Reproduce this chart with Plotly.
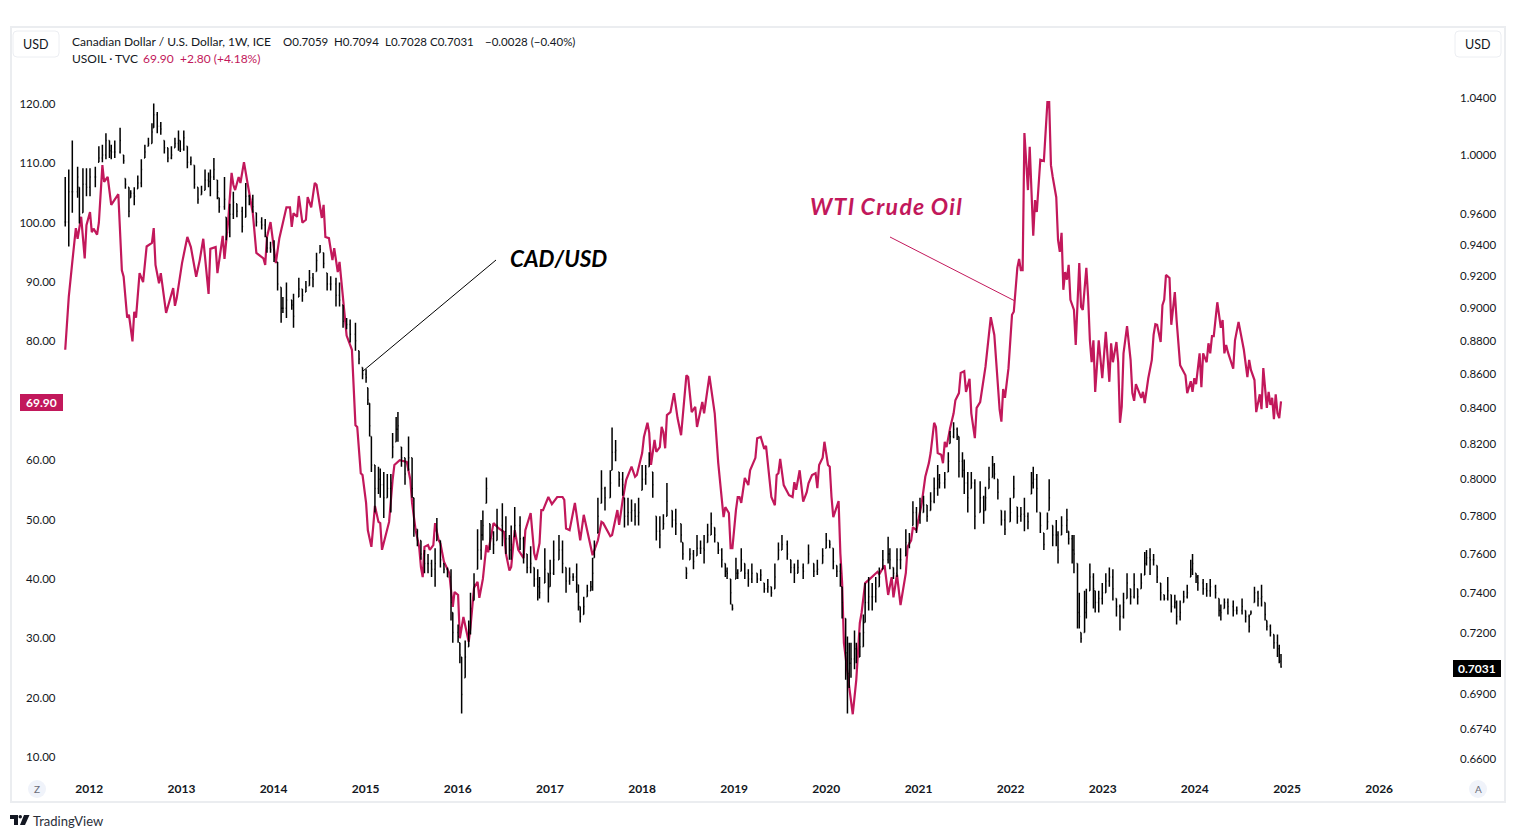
import numpy as np
import pandas as pd
import plotly.graph_objects as go

START = pd.Timestamp("2011-09-28")
WEEK_DAYS = 7.016

# CAD/USD bars (right log axis). Week number counts from START.
cad_week = [0,2,4,7,8,10,12,14,17,19,21,23,25,26,28,31,33,34,36,37,39,41,43,45,47,49,50,52,54,56,58,60,62,64,65,67,69,71,73,75,77,79,81,82,84,86,87,90,91,93,95,97,100,102,104,106,108,111,113,114,116,118,120,122,123,125,128,129,132,134,136,138,140,142,144,146,148,150,153,155,157,159,161,164,
166,168,170,171,172,173,175,177,178,180,182,184,185,187,188,190,192,194,196,197,199,201,203,205,207,209,210,212,214,216,218,219,222,223,224,226,228,229,231,233,235,236,238,240,242,244,247,249,251,252,254,257,259,261,263,265,267,268,271,273,274,276,279,281,283,285,287,289,290,291,293,295,297,298,299,301,303,305,308,309,311,313,315,316,318,320,322,324,326,328,330,332,334,336,
338,340,343,345,348,349,351,353,355,357,359,361,363,365,367,369,371,373,374,376,377,379,380,382,384,386,388,391,393,395,397,399,401,403,405,408,410,412,414,417,420,423,425,428,430,432,434,436,438,439,441,442,443,444,446,447,449,451,452,454,456,458,460,462,465,466,468,470,472,475,477,479,481,483,485,487,489,491,493,494,497,499,500,502,504,505,
507,508,510,512,514,517,519,520,522,524,525,527,529,531,534,536,538,540,542,544,546,547,549,551,553,555,556,558,560,561,563,566,567,569,570,572,573,574,576,577,579,581,582,584,586,588,590,592,594,596,598,600,602,604,606,608,610,611,613,615,617,619,621,623,625,627,628,630,632,634,636,637,639,640,643,645,647,650,652,653,655,657,660,662,665,667,669,670,672,674,676,678,679,681,683,685,686,687]

cad_high = [.985,.990,1.010,.992,.978,.991,.991,.991,.992,1.006,1.007,1.015,1.010,1.007,1.010,1.019,1.000,.984,.978,.976,.978,.986,.997,1.007,1.012,1.022,1.036,1.030,1.023,1.010,1.005,1.006,1.012,1.017,1.010,1.017,1.006,.999,.993,.978,.979,.990,.988,.990,.998,.983,.971,.985,.958,.967,.975,.967,.965,.981,.973,.973,.961,.958,.957,.945,.942,.943,.929,.913,.907,.916,.905,.909,.919,.912,.917,.924,.922,.935,.940,.935,.922,.920,.919,.916,.902,.894,.893,.891,
.874,.864,.863,.852,.843,.824,.808,.807,.806,.804,.803,.803,.826,.835,.838,.818,.812,.824,.812,.790,.773,.767,.762,.760,.757,.763,.779,.767,.755,.753,.752,.730,.724,.715,.708,.716,.726,.740,.750,.773,.778,.783,.801,.776,.772,.784,.787,.780,.770,.775,.785,.780,.769,.760,.764,.753,.752,.748,.763,.750,.757,.767,.770,.767,.753,.753,.750,.755,.744,.733,.738,.744,.746,.758,.767,.790,.805,.796,.805,.829,.822,.804,.804,.790,.790,.789,.787,.790,.808,.808,.815,.804,.780,.780,
.781,.798,.783,.784,.776,.766,.753,.763,.762,.770,.767,.770,.776,.782,.774,.766,.763,.755,.753,.747,.734,.758,.752,.763,.755,.752,.755,.750,.752,.745,.747,.743,.755,.766,.770,.767,.757,.755,.757,.755,.765,.755,.757,.763,.771,.767,.763,.754,.755,.743,.727,.718,.715,.715,.721,.715,.720,.729,.745,.748,.745,.748,.753,.762,.769,.763,.753,.763,.763,.773,.771,.788,.785,.790,.791,.786,.793,.801,.808,.803,.804,.815,.827,.832,.829,.824,
.815,.811,.804,.804,.800,.799,.791,.796,.807,.813,.809,.800,.783,.783,.790,.802,.785,.785,.790,.782,.804,.807,.803,.782,.771,.782,.800,.775,.778,.772,.780,.784,.772,.770,.770,.755,.740,.720,.741,.742,.755,.750,.741,.741,.745,.750,.753,.752,.737,.734,.740,.750,.742,.750,.742,.750,.761,.762,.763,.760,.754,.745,.739,.748,.739,.739,.736,.736,.741,.744,.757,.760,.750,.749,.747,.745,.747,.744,.737,.734,.737,.737,.736,.733,.737,.731,.729,.731,.743,.741,.744,.735,.726,.724,.719,.719,.714,.7094]

cad_low = [.952,.939,.961,.971,.954,.961,.972,.972,.978,.995,.995,.997,.998,.997,.998,1.001,.994,.977,.958,.971,.966,.977,.978,.998,1.006,1.008,1.019,1.015,1.014,1.001,.995,.997,1.005,1.003,1.002,1.003,.991,.993,.977,.967,.973,.976,.978,.972,.983,.970,.961,.963,.943,.945,.957,.958,.948,.958,.966,.961,.952,.950,.945,.935,.935,.929,.911,.891,.897,.894,.899,.888,.907,.904,.910,.914,.913,.923,.935,.925,.911,.911,.901,.901,.888,.887,.879,.874,
.866,.857,.855,.842,.824,.804,.782,.792,.790,.779,.790,.782,.812,.821,.821,.807,.797,.805,.790,.769,.764,.757,.750,.750,.748,.743,.767,.753,.750,.748,.726,.715,.715,.705,.681,.698,.713,.719,.736,.752,.757,.767,.787,.762,.760,.767,.764,.760,.757,.757,.769,.762,.755,.750,.750,.743,.736,.737,.745,.735,.743,.749,.757,.750,.740,.744,.746,.740,.731,.725,.729,.738,.741,.741,.758,.771,.787,.783,.790,.805,.810,.796,.791,.774,.775,.777,.775,.775,.794,.797,.807,.790,.767,.763,
.773,.780,.774,.770,.766,.757,.747,.757,.752,.759,.760,.755,.766,.770,.766,.760,.753,.748,.747,.734,.731,.747,.747,.751,.747,.743,.745,.745,.746,.740,.740,.738,.742,.757,.762,.757,.750,.745,.750,.747,.755,.748,.749,.755,.763,.763,.752,.748,.743,.727,.697,.681,.693,.698,.702,.705,.708,.713,.725,.731,.731,.735,.743,.752,.755,.752,.747,.748,.752,.759,.763,.775,.771,.776,.782,.777,.783,.787,.791,.795,.795,.804,.820,.823,.822,.801,
.801,.792,.782,.795,.773,.782,.776,.783,.795,.801,.800,.789,.775,.770,.777,.790,.776,.777,.772,.773,.792,.795,.782,.771,.762,.773,.783,.764,.764,.755,.770,.771,.765,.755,.750,.722,.722,.715,.720,.727,.741,.732,.730,.730,.734,.740,.743,.736,.728,.721,.727,.737,.734,.737,.734,.742,.749,.754,.749,.754,.745,.736,.736,.736,.730,.732,.724,.726,.735,.737,.748,.749,.745,.741,.739,.738,.738,.737,.728,.726,.732,.729,.728,.729,.729,.725,.720,.729,.735,.733,.733,.726,.721,.718,.712,.708,.705,.7028]

cad_close = [.955,.975,.975,.985,.960,.980,.978,.985,.985,.998,1.000,1.010,1.003,1.002,1.002,1.010,.996,.980,.962,.974,.972,.981,.990,1.002,1.008,1.016,1.028,1.020,1.018,1.005,.998,1.000,1.008,1.010,1.004,1.012,.995,.996,.980,.970,.975,.983,.982,.985,.990,.975,.965,.970,.948,.960,.968,.962,.952,.972,.970,.965,.955,.953,.948,.938,.937,.932,.915,.900,.900,.905,.902,.895,.912,.908,.913,.919,.918,.930,.937,.928,.915,.915,.908,.905,.892,.890,.884,.880,
.869,.860,.858,.845,.830,.808,.795,.800,.797,.790,.795,.798,.818,.828,.830,.812,.803,.812,.795,.775,.767,.760,.755,.755,.752,.755,.770,.757,.752,.748,.735,.720,.718,.709,.690,.708,.720,.732,.744,.762,.770,.775,.795,.768,.765,.775,.772,.768,.762,.765,.775,.768,.760,.753,.755,.747,.743,.740,.752,.742,.750,.757,.762,.755,.746,.748,.748,.745,.735,.728,.733,.741,.743,.750,.762,.780,.795,.790,.798,.815,.816,.800,.797,.780,.782,.783,.780,.782,.800,.803,.811,.797,.772,.770,
.776,.788,.778,.776,.770,.760,.750,.760,.756,.763,.763,.762,.770,.776,.770,.762,.757,.751,.750,.740,.732,.750,.750,.757,.750,.747,.750,.747,.749,.742,.743,.740,.748,.762,.765,.760,.753,.750,.753,.751,.760,.751,.752,.759,.767,.765,.756,.751,.750,.735,.710,.700,.705,.707,.712,.708,.713,.720,.735,.738,.738,.742,.748,.757,.760,.757,.750,.757,.757,.766,.767,.782,.778,.782,.786,.780,.788,.795,.800,.798,.800,.810,.824,.828,.825,.810,
.805,.798,.790,.798,.780,.790,.783,.790,.800,.808,.803,.793,.778,.773,.782,.795,.780,.781,.780,.777,.798,.800,.795,.775,.765,.777,.790,.770,.770,.762,.775,.778,.768,.762,.760,.730,.728,.717,.730,.735,.748,.742,.735,.737,.740,.746,.748,.742,.733,.728,.735,.745,.738,.744,.738,.745,.755,.758,.757,.757,.748,.740,.737,.741,.733,.735,.728,.730,.738,.740,.752,.755,.748,.745,.742,.741,.743,.740,.731,.730,.735,.733,.731,.731,.733,.728,.723,.730,.740,.737,.738,.729,.723,.720,.715,.712,.709,.7031]
cad_last_open = 0.7059

# USOIL line (left linear axis)
oil_week = [0,2,4,6,7,9,11,12,14,15,16,18,19,21,22,24,26,30,32,33,35,36,38,39,40,42,44,46,49,50,51,53,54,57,61,62,63,66,69,71,74,76,78,81,82,85,86,89,90,92,94,95,96,98,99,101,103,106,108,112,113,114,116,118,119,121,123,125,127,128,129,131,132,134,136,137,139,141,142,145,146,147,149,151,152,154,155,157,159,162,
164,165,167,168,170,171,173,174,175,177,178,179,183,185,186,189,191,193,195,196,198,200,201,202,203,205,206,208,209,211,212,214,217,219,220,222,223,225,228,229,231,233,234,236,238,239,242,245,248,249,251,252,254,256,259,260,263,265,266,268,269,270,273,275,278,281,282,283,285,288,291,293,298,301,303,304,308,309,312,313,315,317,320,322,323,326,327,329,330,331,333,334,336,
337,338,339,340,342,344,346,348,351,352,354,356,357,360,361,364,367,369,372,373,375,376,377,379,380,381,382,384,386,387,390,391,393,395,396,399,401,402,403,404,406,409,411,412,413,415,417,419,420,422,424,425,426,428,429,431,432,433,434,437,438,439,440,443,445,447,449,450,452,455,459,460,463,465,467,468,470,472,475,476,478,479,481,484,486,488,489,491,492,493,495,496,497,498,500,502,
503,505,506,508,509,511,512,514,515,517,520,523,525,528,529,530,531,533,535,536,538,539,540,541,542,544,545,547,548,549,551,553,555,556,557,558,560,561,562,563,564,565,566,567,568,570,571,573,574,575,577,578,579,580,581,582,584,586,588,590,591,592,594,595,596,597,598,600,602,603,604,605,608,609,610,612,614,615,616,617,619,620,621,622,624,625,627,628,630,633,634,636,637,638,639,641,642,643,645,646,647,648,649,651,653,654,655,656,657,660,661,663,666,668,669,670,672,673,675,676,677,679,680,681,682,683,684,685,686,687]

oil_value = [78.6,87.5,93.4,99.1,97.3,101,94,99.6,101.8,98.4,99,98,100,109.7,106.9,107.7,103,104.8,92,90.9,84,84.5,80,85,84,91.5,90,96,96.6,99.1,92.9,89.8,91.5,84.8,89,86,87.3,93.2,97.6,95.9,90.9,93.7,97.3,88,95.6,95.9,91.5,97.8,93.9,100,108.4,106.4,105.5,107.7,106.7,110.2,106.7,101.6,94.9,94,92.9,97.6,100.1,95.9,93.2,97.4,100.1,102.6,102.6,99.3,101.6,101,104.5,100,100.5,104.3,102.6,106.7,106.4,100.8,103,97.6,97.4,93.7,95.7,91.7,93.4,86.5,81,78.6,
65.9,65.6,57.8,57.5,52.8,48.2,45.4,48.7,52.3,49.6,49.4,44.9,49.6,56.7,59.2,60,59.9,59.7,56.7,52.8,48.2,45.4,42,40.3,45.4,45.7,44.9,45.7,49.4,46.5,46,42.9,41,35.3,37.8,37.3,30,33.6,29.4,31.9,38.5,39.5,36.8,40,45.7,44.5,49.4,48.5,47.9,44.3,41.4,42,48.2,44.9,43.5,48.2,51.1,44.3,43.2,46,51.6,51.6,53.8,52.6,53.8,53.8,53.3,48.5,48.2,52.8,46.5,50.8,44,46.5,49.6,49.4,47.2,47.4,51.6,49.1,53.3,56.7,58.9,57.2,57.5,61.2,63.9,66.3,64.6,59.2,63.4,61.4,62.2,
65.6,64.7,62,67.6,68.1,71.3,67.1,64.2,74.3,74,68.1,69,65.6,69.8,67.9,74.2,67.9,59.5,50.4,52.1,51.1,45.2,45.2,51.6,53.8,53.8,52.8,57,55.8,58.3,60.4,63.7,63.9,61.9,62.4,53.8,52.4,57.5,57.8,60.2,55.8,54.1,53.8,56.3,55,58.3,53,54.6,56.1,57.5,57.8,55.3,59.2,60.4,63.1,59.2,58.9,53.8,50.4,53.1,44.3,39.3,29.2,21.8,17.2,23,32.6,34.3,39.3,40.1,41.2,40.8,42.3,37.3,40.3,36.9,40.7,35.6,41,45.4,46.5,48.7,48.2,52.8,57.2,59.5,61.2,66.3,65.6,61.2,60.9,59.5,63.1,62.2,65.4,67.9,
70.1,71.3,74.7,75,71.5,73.7,67.9,63.7,68.8,69.8,75.7,84.1,81.1,68.5,66.5,72,70.5,75.5,84.5,85,92.4,93.9,92,92,115.1,105.5,112.8,97.8,103.8,101.8,110.6,110.4,120.3,120.3,109.7,107.7,104.3,97.1,95.1,98.3,88.7,91.7,90.4,92.9,87,85.3,79.4,93.2,85.8,85.3,92.4,87.5,80.2,76.5,80.2,71.5,80.2,73.8,81.6,73.2,79.7,76.5,79.9,76.5,66.3,69,78,82.6,76.9,71.3,70,72.8,70.5,71.5,69.6,73.8,76.9,81.1,82.9,82.8,79.9,86.1,87,91.2,90.7,82.8,88.3,83.6,76,74.3,71.3,73.3,71.5,73.8,72.8,78,72.3,78,76.5,79.7,78,80.9,80.9,86.6,82.3,83.6,78,79.4,78.2,75.4,80.2,83.3,78.6,74,76.9,75.2,73.5,68.1,71.1,68.6,75.5,68.8,71.5,69.3,70.5,66.9,71.1,67.9,67.1,69.9]

year_labels = [str(y) for y in range(2012, 2027)]
left_ticks = [120, 110, 100, 90, 80, 60, 50, 40, 30, 20, 10]
right_ticks = [1.04, 1.0, 0.96, 0.94, 0.92, 0.90, 0.88, 0.86, 0.84, 0.82, 0.80, 0.78, 0.76, 0.74, 0.72, 0.69, 0.674, 0.66]

FONT = "Lato"
INK = "#131722"
PINK = "#c2185b"
W, H = 1515, 838
PL, PR, PT, PB = 11, 1505, 27, 802


def X(px):
    return (px - PL) / (PR - PL)


def Y(py):
    return (PB - py) / (PB - PT)


def weeks_to_dates(w):
    return START + pd.to_timedelta(np.array(w) * WEEK_DAYS, unit="D")


cad_dates = weeks_to_dates(cad_week)
oil_dates = weeks_to_dates(oil_week)
close_arr = np.array(cad_close)
cad_open = np.clip(np.r_[close_arr[0], close_arr[:-1]], cad_low, cad_high)
cad_open[-1] = cad_last_open

fig = go.Figure()
fig.add_trace(go.Scatter(x=oil_dates, y=oil_value, mode="lines", yaxis="y",
                         line=dict(color=PINK, width=2.2), hoverinfo="skip", showlegend=False))
fig.add_trace(go.Ohlc(x=cad_dates, open=cad_open, high=cad_high, low=cad_low, close=cad_close,
                      yaxis="y2", tickwidth=0.5, hoverinfo="skip", showlegend=False,
                      increasing=dict(line=dict(color="#000000", width=1.5)),
                      decreasing=dict(line=dict(color="#000000", width=1.5))))


def rrect(x0, y0, x1, y1, r):
    a, b, c, d = X(x0), Y(y0), X(x1), Y(y1)
    rx, ry = r / (PR - PL), r / (PB - PT)
    return (f"M {a+rx} {b} L {c-rx} {b} Q {c} {b} {c} {b-ry} L {c} {d+ry} Q {c} {d} {c-rx} {d} "
            f"L {a+rx} {d} Q {a} {d} {a} {d+ry} L {a} {b-ry} Q {a} {b} {a+rx} {b} Z")


def poly(pts):
    return "M " + " L ".join(f"{X(a)} {Y(b)}" for a, b in pts) + " Z"


shapes = [
    dict(type="rect", xref="paper", yref="paper", x0=0, x1=1, y0=0, y1=1,
         line=dict(color="#ebedf0", width=2), layer="above"),
    dict(type="path", xref="paper", yref="paper", path=rrect(13, 31, 59, 57, 4),
         line=dict(color="#eceef2", width=1), fillcolor="#ffffff"),
    dict(type="path", xref="paper", yref="paper", path=rrect(1455, 31, 1501, 57, 4),
         line=dict(color="#eceef2", width=1), fillcolor="#ffffff"),
    dict(type="line", xref="paper", yref="paper", x0=X(363), y0=Y(371), x1=X(496), y1=Y(260),
         line=dict(color="#000000", width=1), layer="above"),
    dict(type="line", xref="paper", yref="paper", x0=X(890), y0=Y(237), x1=X(1015), y1=Y(301),
         line=dict(color=PINK, width=1), layer="above"),
    dict(type="rect", xref="paper", yref="paper", x0=X(20), x1=X(63), y0=Y(394), y1=Y(411),
         line=dict(width=0), fillcolor=PINK, layer="above"),
    dict(type="rect", xref="paper", yref="paper", x0=X(1453), x1=X(1501), y0=Y(660), y1=Y(677),
         line=dict(width=0), fillcolor="#000000", layer="above"),
    dict(type="circle", xref="paper", yref="paper", x0=X(28), x1=X(46), y0=Y(780), y1=Y(798),
         line=dict(width=0), fillcolor="#f0f3fa"),
    dict(type="circle", xref="paper", yref="paper", x0=X(1469), x1=X(1487), y0=Y(780), y1=Y(798),
         line=dict(width=0), fillcolor="#f0f3fa"),
    # TradingView mark
    dict(type="path", xref="paper", yref="paper", line=dict(width=0), fillcolor=INK,
         path=poly([(10, 815), (18, 815), (18, 825), (14, 825), (14, 819), (10, 819)])),
    dict(type="circle", xref="paper", yref="paper", x0=X(18.5), x1=X(22), y0=Y(815), y1=Y(818.5),
         line=dict(width=0), fillcolor=INK),
    dict(type="path", xref="paper", yref="paper", line=dict(width=0), fillcolor=INK,
         path=poly([(24, 815), (29.5, 815), (25, 825), (20, 825)])),
]


def note(px, py, text, size=12, color=INK, anchor="left", bold=False, italic=False, family=FONT):
    return dict(xref="paper", yref="paper", x=X(px), y=Y(py), text=text, showarrow=False,
                xanchor=anchor, yanchor="middle", align=anchor,
                font=dict(family=family, size=size, color=color,
                          weight=700 if bold else 400, style="italic" if italic else "normal"))


annotations = [
    note(35.5, 44, "USD", 12.5, anchor="center"),
    note(1477, 44, "USD", 12.5, anchor="center"),
    note(70, 41.5, "Canadian Dollar / U.S. Dollar, 1W, ICE"),
    note(281, 41.5, "O0.7059", 11.5),
    note(332, 41.5, "H0.7094", 11.5),
    note(383, 41.5, "L0.7028", 11.5),
    note(428, 41.5, "C0.7031", 11.5),
    note(483, 41.5, "−0.0028 (−0.40%)", 11.5),
    note(70, 58.5, "USOIL · TVC", 12),
    note(141, 58.5, "69.90", 12, color=PINK),
    note(178, 58.5, "+2.80 (+4.18%)", 12, color=PINK),
    note(41, 402.5, "69.90", color="#ffffff", anchor="center", bold=True),
    note(1477, 668.5, "0.7031", color="#ffffff", anchor="center", bold=True),
    note(37, 789, "Z", 10, color="#6a6d78", anchor="center"),
    note(1478, 789, "A", 10, color="#6a6d78", anchor="center"),
    note(31, 820.5, "TradingView", 13, color="#2a2e39"),
    note(508, 258, "CAD/USD", 22.5, color="#000000", bold=True, italic=True),
    note(808, 206.5, "W\u200aT\u200aI \u200aC\u200ar\u200au\u200ad\u200ae \u200aO\u200ai\u200al",
         23, color=PINK, bold=True, italic=True),
]

fig.update_layout(
    width=W, height=H, autosize=False,
    margin=dict(l=PL, r=W - PR, t=PT, b=H - PB, pad=0),
    paper_bgcolor="#ffffff", plot_bgcolor="#ffffff",
    font=dict(family=FONT, size=12, color=INK),
    showlegend=False, hovermode=False, dragmode=False,
    xaxis=dict(type="date", range=["2011-02-25", "2027-05-15"],
               tickmode="array", tickvals=[f"{y}-01-01" for y in year_labels], ticktext=year_labels,
               ticklabelposition="inside", ticklabelstandoff=4, ticks="", showgrid=False, zeroline=False,
               showline=False, tickfont=dict(family=FONT, size=12, color=INK, weight=700),
               rangeslider=dict(visible=False), fixedrange=True, anchor="y"),
    yaxis=dict(type="linear", range=[2.42, 132.97], domain=[0, 1], anchor="free", position=X(55.5),
               side="left", tickmode="array", tickvals=left_ticks, ticktext=[f"{v:.2f}" for v in left_ticks],
               ticks="", showgrid=False, zeroline=False, showline=False, automargin=False,
               tickfont=dict(family=FONT, size=11.5, color=INK), fixedrange=True),
    yaxis2=dict(type="log", range=[-0.1933, 0.03824], domain=[0, 1], anchor="free", position=X(1459),
                side="right", overlaying="y", tickmode="array", tickvals=right_ticks,
                ticktext=[f"{v:.4f}" for v in right_ticks], ticks="", showgrid=False, zeroline=False,
                showline=False, automargin=False,
                tickfont=dict(family=FONT, size=11.5, color=INK), fixedrange=True),
    shapes=shapes, annotations=annotations,
)

fig.write_html("out.html", post_script="document.body.style.margin='0';document.body.style.overflow='hidden';",
               config=dict(displayModeBar=False))
